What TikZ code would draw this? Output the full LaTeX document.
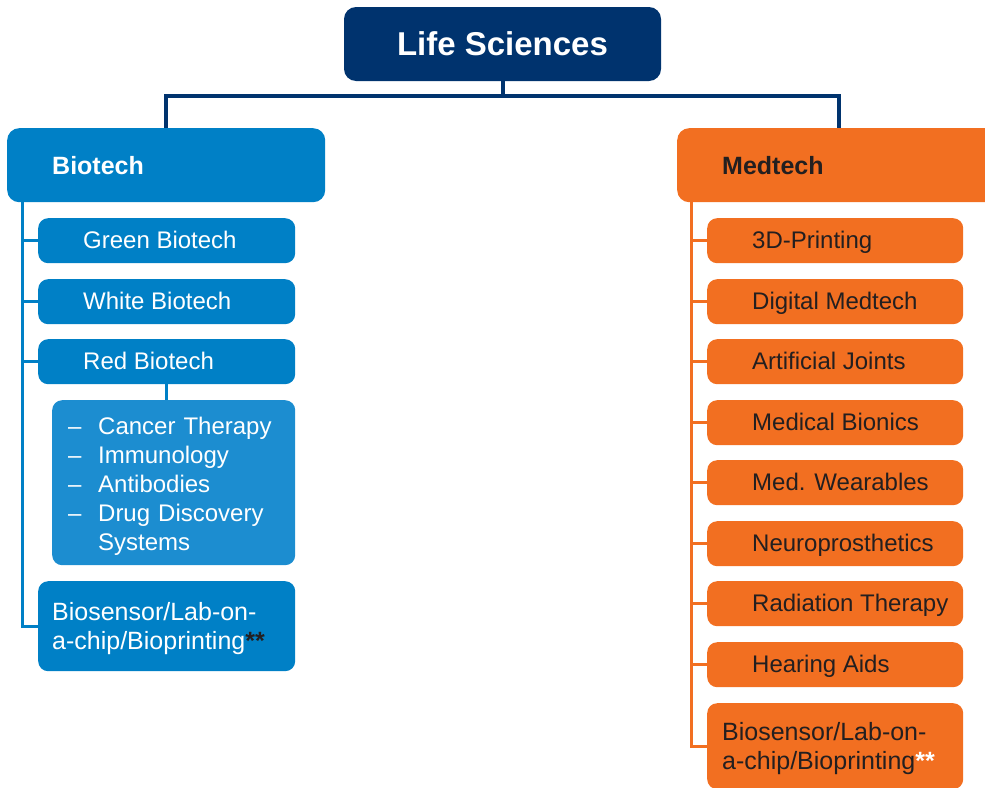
\documentclass[tikz,border=0pt]{standalone}
\usepackage{fontspec}
\setmainfont{Liberation Sans}
\usetikzlibrary{positioning}
\definecolor{lsNavy}  {RGB}{  0, 51,110}
\definecolor{lsBlue}  {RGB}{  0,128,198}
\definecolor{lsBlueL} {RGB}{ 28,141,208}
\definecolor{lsOrange}{RGB}{242,111, 33}
\definecolor{lsInk}   {RGB}{ 35, 31, 32}
\newcommand{\lefttext}[2]{\makebox[#1][l]{#2}}

\begin{document}
\begin{tikzpicture}[x=1pt,y=-1pt,
  every node/.style={font=\fontsize{24}{29}\selectfont},
  root/.style={fill=lsNavy,text=white,rounded corners=12pt,
              minimum width=317pt,minimum height=74pt,
              font=\fontsize{33}{38}\selectfont\bfseries},
  head/.style={rounded corners=12pt,minimum height=74pt,inner xsep=45pt,
              anchor=north west,font=\fontsize{25}{30}\selectfont\bfseries},
  bitem/.style={fill=lsBlue,text=white,rounded corners=10pt,minimum height=45pt,
              inner xsep=45pt,inner ysep=0pt,text height=18.5pt,text depth=3.5pt,
              anchor=north west},
  mitem/.style={fill=lsOrange,text=lsInk,rounded corners=10pt,minimum height=45pt,
              inner xsep=45pt,inner ysep=0pt,text height=18.5pt,text depth=3.5pt,
              anchor=north west},
  bsub/.style={fill=lsBlueL,text=white,rounded corners=10pt,inner ysep=0pt,
              text height=34pt,text depth=131pt,
              text width=211pt,inner xsep=16pt,align=left,anchor=north west},
  bigbox/.style={rounded corners=10pt,align=left,anchor=north west,inner ysep=0pt,
              font=\fontsize{25}{29.5}\selectfont},
  navyline/.style={draw=lsNavy,line width=4pt},
  bline/.style={draw=lsBlue,line width=3pt},
  mline/.style={draw=lsOrange,line width=3pt}
]
\clip (0,0) rectangle (985,787);

\node[root] (ls) at (502.5,44) {Life Sciences};
\node[head,fill=lsBlue,text=white]   (bio) at (7,128)   {\lefttext{228pt}{Biotech}};
\node[head,fill=lsOrange,text=lsInk] (med) at (677,128) {\lefttext{234pt}{Medtech}};

% Biotech branch
\node[bitem] (b1) at (38,218) {\lefttext{167pt}{Green Biotech}};
\node[bitem] (b2) at (38,279) {\lefttext{167pt}{White Biotech}};
\node[bitem] (b3) at (38,339) {\lefttext{167pt}{Red Biotech}};
\node[bsub]  (rsub) at (52,400) {\lefttext{30pt}{--}Cancer Therapy\\
                                 \lefttext{30pt}{--}Immunology\\
                                 \lefttext{30pt}{--}Antibodies\\
                                 \lefttext{30pt}{--}Drug Discovery\\
                                 \hspace*{30pt}Systems};
\node[bigbox,fill=lsBlue,text=white,text width=229pt,inner xsep=14pt,
      text height=39pt,text depth=51pt]
      (b4) at (38,581) {Biosensor/Lab-on-\\a-chip/Bioprinting\textcolor{lsInk}{\textbf{**}}};

% Medtech branch
\node[mitem] (m1) at (707,218) {\lefttext{166pt}{3D-Printing}};
\node[mitem] (m2) at (707,279) {\lefttext{166pt}{Digital Medtech}};
\node[mitem] (m3) at (707,339) {\lefttext{166pt}{Artificial Joints}};
\node[mitem] (m4) at (707,400) {\lefttext{166pt}{Medical Bionics}};
\node[mitem] (m5) at (707,460) {\lefttext{166pt}{Med. Wearables}};
\node[mitem] (m6) at (707,521) {\lefttext{166pt}{Neuroprosthetics}};
\node[mitem] (m7) at (707,581) {\lefttext{166pt}{Radiation Therapy}};
\node[mitem] (m8) at (707,642) {\lefttext{166pt}{Hearing Aids}};
\node[bigbox,fill=lsOrange,text=lsInk,text width=226pt,inner xsep=15pt,
      text height=37pt,text depth=49pt]
      (m9) at (707,703) {Biosensor/Lab-on-\\a-chip/Bioprinting\textcolor{white}{\textbf{**}}};

% tree lines
\draw[navyline] (ls.south) -- ++(0,15) -| (bio.north);
\draw[navyline] (ls.south) ++(0,15) -| (med.north);

\coordinate (bspine) at ([xshift=15pt]bio.south west);
\draw[bline] (bspine) |- (b4.west);
\draw[bline] (bspine |- b1.west) -- (b1.west);
\draw[bline] (bspine |- b2.west) -- (b2.west);
\draw[bline] (bspine |- b3.west) -- (b3.west);
\draw[bline] (b3.south -| bio.north) -- (rsub.north -| bio.north);

\coordinate (mspine) at ([xshift=14pt]med.south west);
\draw[mline] (mspine) |- (m9.west);
\draw[mline] (mspine |- m1.west) -- (m1.west);
\draw[mline] (mspine |- m2.west) -- (m2.west);
\draw[mline] (mspine |- m3.west) -- (m3.west);
\draw[mline] (mspine |- m4.west) -- (m4.west);
\draw[mline] (mspine |- m5.west) -- (m5.west);
\draw[mline] (mspine |- m6.west) -- (m6.west);
\draw[mline] (mspine |- m7.west) -- (m7.west);
\draw[mline] (mspine |- m8.west) -- (m8.west);
\end{tikzpicture}
\end{document}
